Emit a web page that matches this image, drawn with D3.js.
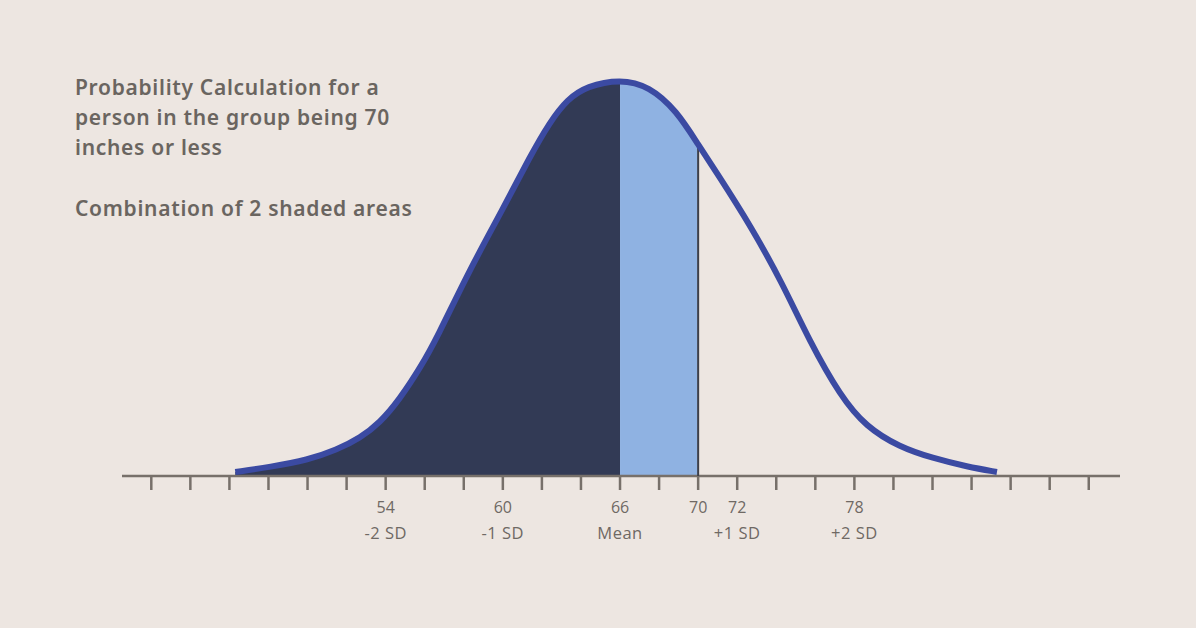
<!DOCTYPE html>
<html>
<head>
<meta charset="utf-8">
<script src="https://cdn.jsdelivr.net/npm/d3@7"></script>
<style>
  html, body { margin: 0; padding: 0; background: #ede6e1; }
  #chart { width: 1196px; height: 628px; }
</style>
</head>
<body>
<div id="chart"></div>
<script>
// curve: height in inches vs relative height (peak = 100)
const curveX = [46.3, 48.1, 50.0, 51.5, 52.7, 53.7, 54.7, 55.8, 56.6, 58.3, 60.0, 61.4, 62.4, 63.3, 64.3, 66,
                67.5, 68.9, 70, 71.0, 72.7, 74.3, 75.7, 77.3, 78.6, 80.3, 82.0, 83.8, 85.3];
const curveY = [1.0, 2.3, 4.0, 6.6, 9.6, 13.4, 19.2, 27.5, 34.5, 52.0, 67.2, 80.6, 89.1, 94.9, 98.2, 100,
                98.2, 92, 83.5, 76, 62.9, 48.7, 34, 20, 12.4, 7.3, 4.5, 2.3, 1.0];

const tickValues = d3.range(42, 91, 2);
const labelValues = [54, 60, 66, 70, 72, 78];
const sdValues = [54, 60, 66, 72, 78];
const sdLabels = ["-2 SD", "-1 SD", "Mean", "+1 SD", "+2 SD"];

const cutMean = 66;
const cutValue = 70;

const titleLines = ["Probability Calculation for a", "person in the group being 70", "inches or less"];
const subTitle = "Combination of 2 shaded areas";

const points = curveX.map((x, i) => ({ x: x, y: curveY[i] }));

const svg = d3.select("#chart").append("svg")
    .attr("width", 1196)
    .attr("height", 628);

svg.append("rect").attr("width", 1196).attr("height", 628).attr("fill", "#ede6e1");

const x = d3.scaleLinear().domain([40.5, 91.6]).range([122, 1120]);
const y = d3.scaleLinear().domain([0, 100]).range([476, 79]);

// basis smooths out reading noise in the hand-picked points
const curve = d3.curveBasis;

const area = d3.area()
    .x(d => x(d.x))
    .y0(y(0))
    .y1(d => y(d.y))
    .curve(curve);

const line = d3.line().x(d => x(d.x)).y(d => y(d.y)).curve(curve);

// clip paths so each shaded piece follows the same curve
const defs = svg.append("defs");
defs.append("clipPath").attr("id", "clipDark")
    .append("rect")
    .attr("x", 0).attr("y", 0)
    .attr("width", x(cutMean)).attr("height", 628);
defs.append("clipPath").attr("id", "clipLight")
    .append("rect")
    .attr("x", x(cutMean)).attr("y", 0)
    .attr("width", x(cutValue) - x(cutMean)).attr("height", 628);

svg.append("path")
    .datum(points)
    .attr("d", area)
    .attr("fill", "#323a55")
    .attr("clip-path", "url(#clipDark)");

svg.append("path")
    .datum(points)
    .attr("d", area)
    .attr("fill", "#8fb2e2")
    .attr("clip-path", "url(#clipLight)");

// axis
const axis = svg.append("g").attr("transform", `translate(0,${y(0)})`);
axis.append("line")
    .attr("x1", 122).attr("x2", 1120)
    .attr("stroke", "#77706a")
    .attr("stroke-width", 2.5);

axis.selectAll(".tick")
    .data(tickValues)
    .enter()
    .append("line")
    .attr("class", "tick")
    .attr("x1", d => x(d)).attr("x2", d => x(d))
    .attr("y1", 0).attr("y2", 14)
    .attr("stroke", "#77706a")
    .attr("stroke-width", 2.5);

// outline of the curve
const outline = svg.append("path")
    .datum(points)
    .attr("d", line)
    .attr("fill", "none")
    .attr("stroke", "#3b4aa2")
    .attr("stroke-width", 6)
    .attr("stroke-linecap", "butt");

// find where the drawn curve crosses x = 70
const node = outline.node();
const total = node.getTotalLength();
let lo = 0, hi = total;
for (let k = 0; k < 40; k++) {
    const mid = (lo + hi) / 2;
    if (node.getPointAtLength(mid).x < x(cutValue)) lo = mid; else hi = mid;
}
const yAt70 = node.getPointAtLength(lo).y;

svg.insert("line", "path:last-of-type")
    .attr("x1", x(cutValue)).attr("x2", x(cutValue))
    .attr("y1", y(0)).attr("y2", yAt70)
    .attr("stroke", "#3e4049")
    .attr("stroke-width", 2);

axis.selectAll(".num")
    .data(labelValues)
    .enter()
    .append("text")
    .attr("class", "num")
    .attr("x", d => x(d))
    .attr("y", 37)
    .attr("text-anchor", "middle")
    .style("font-family", "'Open Sans', sans-serif")
    .style("font-size", "16px")
    .attr("fill", "#6f6964")
    .text(d => d);

axis.selectAll(".sd")
    .data(sdValues)
    .enter()
    .append("text")
    .attr("class", "sd")
    .attr("x", d => x(d))
    .attr("y", 63)
    .attr("text-anchor", "middle")
    .style("font-family", "'Open Sans', sans-serif")
    .style("font-size", "16.5px")
    .style("letter-spacing", "0.5px")
    .attr("fill", "#6f6964")
    .text((d, i) => sdLabels[i]);

// annotation text
const note = svg.append("g").attr("transform", "translate(75,0)");
note.selectAll(".title")
    .data(titleLines)
    .enter()
    .append("text")
    .attr("class", "title")
    .attr("x", 0)
    .attr("y", (d, i) => 95 + i * 30)
    .style("font-family", "'Noto Sans', sans-serif")
    .style("font-size", "21px")
    .style("font-weight", "600")
    .style("letter-spacing", "0.7px")
    .attr("fill", "#6a6560")
    .text(d => d);

note.append("text")
    .attr("x", 0)
    .attr("y", 216)
    .style("font-family", "'Noto Sans', sans-serif")
    .style("font-size", "21px")
    .style("font-weight", "600")
    .style("letter-spacing", "0.7px")
    .attr("fill", "#6a6560")
    .text(subTitle);
</script>
</body>
</html>
